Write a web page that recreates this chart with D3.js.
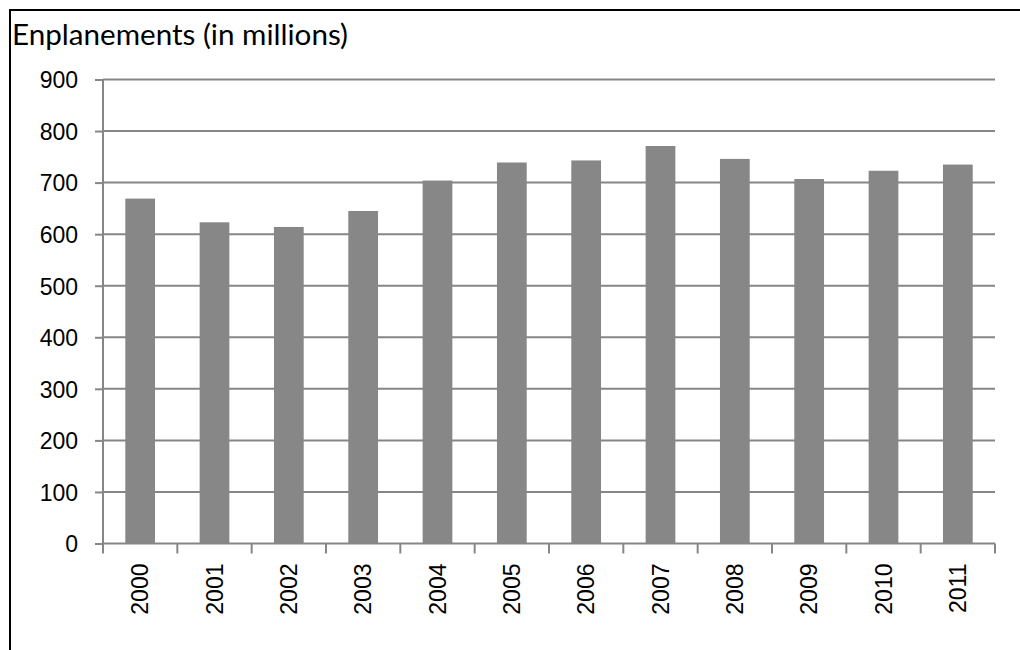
<!DOCTYPE html>
<html>
<head>
<meta charset="utf-8">
<script src="https://cdn.jsdelivr.net/npm/d3@7"></script>
<style>
  body { margin: 0; background: #fff; }
</style>
</head>
<body>
<div id="chart"></div>
<script>
const years = ["2000", "2001", "2002", "2003", "2004", "2005", "2006", "2007", "2008", "2009", "2010", "2011"];
const enplanements = [669, 623, 614, 645, 704, 739, 743, 771, 746, 707, 723, 735];
const yTicks = [0, 100, 200, 300, 400, 500, 600, 700, 800, 900];
const chartTitle = "Enplanements (in millions)";

const width = 1020, height = 650;
const plotLeft = 103, plotRight = 995, plotTop = 79.5, plotBottom = 543.5;
const gridColor = "#868686", barColor = "#878787";
const labelFont = "Liberation Sans, Arial, sans-serif";

const svg = d3.select("#chart").append("svg")
    .attr("width", width)
    .attr("height", height);

// outer frame, only top and left edges are visible
svg.append("rect")
    .attr("x", 10).attr("y", 10)
    .attr("width", width + 20).attr("height", height + 20)
    .attr("fill", "none")
    .attr("stroke", "#000")
    .attr("stroke-width", 2);

svg.append("text")
    .attr("x", 12).attr("y", 45)
    .attr("font-family", "Lato, sans-serif")
    .attr("font-size", 28)
    .attr("textLength", 336)
    .attr("lengthAdjust", "spacingAndGlyphs")
    .attr("fill", "#000")
    .text(chartTitle);

const x = d3.scaleBand()
    .domain(years)
    .range([plotLeft, plotRight])
    .paddingInner(0.6)
    .paddingOuter(0.3);

const y = d3.scaleLinear()
    .domain([0, 900])
    .range([plotBottom, plotTop]);

// gridlines
svg.append("g")
    .attr("class", "grid")
    .selectAll("line")
    .data(yTicks.slice(1))
    .enter().append("line")
    .attr("x1", plotLeft).attr("x2", plotRight)
    .attr("y1", d => y(d)).attr("y2", d => y(d))
    .attr("stroke", gridColor)
    .attr("stroke-width", 2);

// bars
svg.append("g")
    .attr("class", "bars")
    .selectAll("rect")
    .data(years)
    .enter().append("rect")
    .attr("x", d => x(d))
    .attr("width", x.bandwidth())
    .attr("y", (d, i) => y(enplanements[i]))
    .attr("height", (d, i) => y(0) - y(enplanements[i]))
    .attr("fill", barColor);

// y axis
const yAxis = svg.append("g")
    .attr("transform", "translate(" + plotLeft + ",0)")
    .call(d3.axisLeft(y).tickValues(yTicks).tickSize(8).tickPadding(17));
yAxis.attr("font-family", labelFont).attr("font-size", 23);
yAxis.selectAll("line, path").attr("stroke", gridColor).attr("stroke-width", 2);
yAxis.select("path").attr("d", "M0," + plotTop + "V" + plotBottom);
yAxis.selectAll("text")
    .attr("fill", "#000")
    .attr("dy", "0.36em");

// x axis, ticks between categories
const xAxis = svg.append("g")
    .attr("class", "x-axis")
    .attr("font-family", labelFont)
    .attr("font-size", 23);
xAxis.append("line")
    .attr("x1", plotLeft).attr("x2", plotRight)
    .attr("y1", plotBottom).attr("y2", plotBottom)
    .attr("stroke", gridColor).attr("stroke-width", 2);
xAxis.selectAll(".tick")
    .data(d3.range(years.length + 1))
    .enter().append("line")
    .attr("class", "tick")
    .attr("x1", i => plotLeft + i * (plotRight - plotLeft) / years.length)
    .attr("x2", i => plotLeft + i * (plotRight - plotLeft) / years.length)
    .attr("y1", plotBottom).attr("y2", plotBottom + 10)
    .attr("stroke", gridColor).attr("stroke-width", 2);
xAxis.selectAll(".label")
    .data(years)
    .enter().append("text")
    .attr("class", "label")
    .attr("transform", d => "translate(" + (x(d) + x.bandwidth() / 2) + "," + (plotBottom + 20) + ") rotate(-90)")
    .attr("text-anchor", "end")
    .attr("dy", "0.36em")
    .attr("fill", "#000")
    .text(d => d);
</script>
</body>
</html>
